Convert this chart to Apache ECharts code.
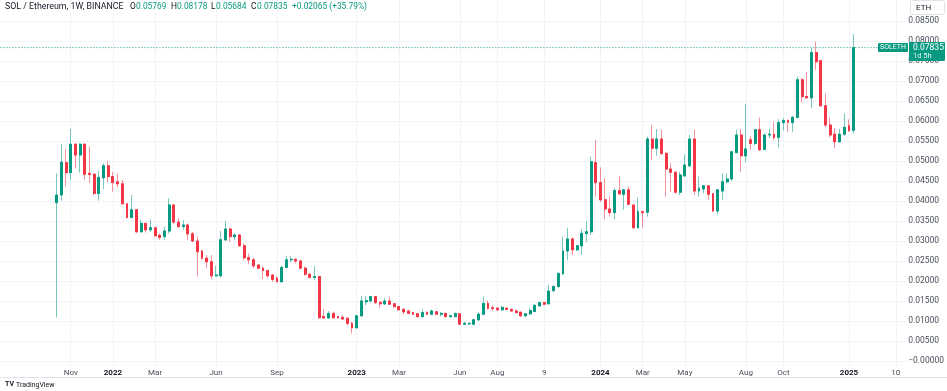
<!DOCTYPE html>
<html><head><meta charset="utf-8">
<script src="https://cdn.jsdelivr.net/npm/echarts@6/dist/echarts.min.js"></script>
<style>html,body{margin:0;padding:0;background:#fff}#c{width:947px;height:391px}</style>
</head><body><div id="c"></div>
<script>
// ---- data (weekly SOL/ETH candles) ----
const firstWeek = '2021-10-11';
const weeksBefore = 12;   // empty weeks shown before the first candle
const weeksAfter = 11;    // empty weeks shown after the last candle
const opens = [
0.0396,0.0415,0.0496,0.0471,0.0542,0.0515,0.0542,0.0469,0.0467,0.0419,0.0458,0.0488,0.0461,0.0448,0.0443,0.0393,0.0359,0.0378,0.0323,0.0344,
0.0328,0.0333,0.0314,0.0311,0.0325,0.0390,0.0347,0.0336,0.0340,0.0318,0.0300,0.0275,0.0257,0.0248,0.0213,0.0213,0.0303,0.0330,0.0311,0.0315,
0.0288,0.0258,0.0253,0.0240,0.0232,0.0226,0.0215,0.0207,0.0198,0.0234,0.0253,0.0254,0.0250,0.0232,0.0217,0.0209,0.0211,0.0111,0.0108,0.0119,
0.0111,0.0109,0.0107,0.0094,0.0083,0.0113,0.0148,0.0150,0.0161,0.0147,0.0143,0.0150,0.0143,0.0136,0.0129,0.0125,0.0121,0.0118,0.0111,0.0122,
0.0117,0.0123,0.0117,0.0119,0.0111,0.0111,0.0118,0.0092,0.0093,0.0092,0.0103,0.0117,0.0144,0.0133,0.0132,0.0128,0.0132,0.0129,0.0125,0.0122,
0.0113,0.0118,0.0124,0.0138,0.0146,0.0143,0.0176,0.0186,0.0218,0.0275,0.0305,0.0278,0.0288,0.0319,0.0323,0.0496,0.0446,0.0403,0.0380,0.0371,
0.0426,0.0417,0.0428,0.0390,0.0333,0.0373,0.0372,0.0555,0.0532,0.0555,0.0519,0.0480,0.0472,0.0422,0.0463,0.0488,0.0555,0.0425,0.0430,0.0438,
0.0418,0.0375,0.0425,0.0448,0.0455,0.0521,0.0565,0.0513,0.0553,0.0544,0.0578,0.0529,0.0565,0.0567,0.0559,0.0596,0.0601,0.0596,0.0609,0.0703,
0.0661,0.0658,0.0771,0.0751,0.0638,0.0590,0.0567,0.0548,0.0567,0.0588,0.05769];
const closes = [
0.0415,0.0497,0.0471,0.0542,0.0515,0.0542,0.0467,0.0466,0.0419,0.0459,0.0488,0.0461,0.0446,0.0443,0.0393,0.0359,0.0378,0.0323,0.0344,0.0328,
0.0333,0.0313,0.0309,0.0325,0.0390,0.0347,0.0336,0.0340,0.0318,0.0300,0.0273,0.0257,0.0248,0.0213,0.0215,0.0303,0.0330,0.0311,0.0315,0.0288,
0.0258,0.0253,0.0238,0.0232,0.0226,0.0213,0.0204,0.0198,0.0234,0.0253,0.0254,0.0250,0.0232,0.0217,0.0209,0.0211,0.0108,0.0108,0.0119,0.0108,
0.0108,0.0105,0.0094,0.0083,0.0113,0.0150,0.0151,0.0161,0.0146,0.0143,0.0150,0.0142,0.0136,0.0128,0.0123,0.0119,0.0117,0.0111,0.0121,0.0117,
0.0125,0.0117,0.0119,0.0111,0.0113,0.0119,0.0092,0.0094,0.0094,0.0103,0.0117,0.0144,0.0132,0.0131,0.0128,0.0134,0.0129,0.0125,0.0121,0.0113,
0.0118,0.0126,0.0139,0.0146,0.0142,0.0175,0.0186,0.0219,0.0275,0.0305,0.0278,0.0288,0.0319,0.0323,0.0498,0.0446,0.0403,0.0380,0.0371,0.0426,
0.0418,0.0428,0.0392,0.0333,0.0373,0.0371,0.0555,0.0532,0.0555,0.0519,0.0480,0.0472,0.0422,0.0465,0.0490,0.0555,0.0425,0.0432,0.0438,0.0417,
0.0375,0.0428,0.0448,0.0455,0.0523,0.0565,0.0513,0.0530,0.0544,0.0578,0.0528,0.0565,0.0567,0.0559,0.0596,0.0601,0.0597,0.0609,0.0703,0.0661,
0.0658,0.0771,0.0748,0.0638,0.0590,0.0565,0.0548,0.0567,0.0584,0.0576,0.07835];
const lows = [
0.0109,0.0401,0.0436,0.0453,0.0482,0.0471,0.0453,0.0446,0.0415,0.0401,0.0430,0.0448,0.0423,0.0434,0.0393,0.0357,0.0357,0.0321,0.0322,0.0321,
0.0323,0.0311,0.0303,0.0303,0.0319,0.0344,0.0333,0.0328,0.0303,0.0297,0.0211,0.0253,0.0232,0.0205,0.0212,0.0211,0.0300,0.0298,0.0303,0.0286,
0.0253,0.0242,0.0233,0.0230,0.0205,0.0208,0.0198,0.0197,0.0197,0.0232,0.0247,0.0244,0.0230,0.0213,0.0207,0.0203,0.0108,0.0105,0.0105,0.0107,
0.0107,0.0103,0.0090,0.0069,0.0082,0.0111,0.0140,0.0148,0.0142,0.0133,0.0140,0.0140,0.0132,0.0126,0.0117,0.0118,0.0115,0.0109,0.0109,0.0115,
0.0115,0.0116,0.0112,0.0109,0.0108,0.0109,0.0090,0.0090,0.0090,0.0089,0.0101,0.0115,0.0129,0.0126,0.0125,0.0126,0.0127,0.0123,0.0119,0.0111,
0.0111,0.0115,0.0122,0.0136,0.0140,0.0142,0.0173,0.0184,0.0215,0.0253,0.0265,0.0275,0.0265,0.0298,0.0315,0.0411,0.0398,0.0354,0.0361,0.0354,
0.0415,0.0378,0.0390,0.0332,0.0332,0.0333,0.0361,0.0503,0.0513,0.0515,0.0411,0.0423,0.0419,0.0415,0.0460,0.0486,0.0415,0.0411,0.0419,0.0403,
0.0372,0.0367,0.0403,0.0444,0.0451,0.0519,0.0473,0.0497,0.0528,0.0540,0.0526,0.0528,0.0557,0.0553,0.0534,0.0576,0.0573,0.0573,0.0607,0.0646,
0.0657,0.0632,0.0728,0.0636,0.0584,0.0559,0.0532,0.0546,0.0563,0.0573,0.05684];
const highs = [
0.0469,0.0542,0.0530,0.0580,0.0544,0.0544,0.0544,0.0536,0.0469,0.0475,0.0494,0.0500,0.0473,0.0469,0.0453,0.0395,0.0415,0.0379,0.0353,0.0346,
0.0354,0.0334,0.0319,0.0336,0.0407,0.0392,0.0357,0.0352,0.0344,0.0323,0.0311,0.0278,0.0265,0.0265,0.0238,0.0325,0.0350,0.0333,0.0319,0.0317,
0.0294,0.0269,0.0258,0.0242,0.0236,0.0228,0.0217,0.0211,0.0238,0.0263,0.0263,0.0257,0.0253,0.0236,0.0219,0.0238,0.0213,0.0130,0.0125,0.0123,
0.0113,0.0115,0.0108,0.0098,0.0115,0.0163,0.0163,0.0163,0.0163,0.0148,0.0157,0.0161,0.0144,0.0138,0.0132,0.0128,0.0122,0.0119,0.0129,0.0123,
0.0129,0.0125,0.0122,0.0121,0.0115,0.0121,0.0119,0.0098,0.0096,0.0104,0.0122,0.0161,0.0151,0.0140,0.0136,0.0138,0.0134,0.0131,0.0129,0.0123,
0.0120,0.0132,0.0143,0.0148,0.0148,0.0189,0.0190,0.0221,0.0311,0.0333,0.0309,0.0290,0.0329,0.0350,0.0511,0.0553,0.0484,0.0457,0.0411,0.0432,
0.0461,0.0430,0.0436,0.0392,0.0408,0.0375,0.0561,0.0590,0.0580,0.0578,0.0522,0.0494,0.0473,0.0473,0.0517,0.0565,0.0578,0.0461,0.0440,0.0440,
0.0419,0.0430,0.0469,0.0469,0.0525,0.0578,0.0580,0.0643,0.0563,0.0579,0.0609,0.0569,0.0580,0.0598,0.0604,0.0607,0.0604,0.0613,0.0711,0.0707,
0.0723,0.0782,0.0798,0.0753,0.0669,0.0609,0.0582,0.0580,0.0619,0.0604,0.08178];
const xTickLabels = [
['2021-11-01','Nov'],['2022-01-03','2022'],['2022-03-07','Mar'],['2022-06-06','Jun'],['2022-09-05','Sep'],
['2023-01-02','2023'],['2023-03-06','Mar'],['2023-06-05','Jun'],['2023-07-31','Aug'],['2023-10-09','9'],
['2024-01-01','2024'],['2024-03-04','Mar'],['2024-05-06','May'],['2024-08-05','Aug'],['2024-09-30','Oct'],
['2025-01-06','2025'],['2025-03-17','10']];
const yTickValues = [0,0.005,0.01,0.015,0.02,0.025,0.03,0.035,0.04,0.045,0.05,0.055,0.06,0.065,0.07,0.075,0.08,0.085];
const yTickLabels = ['\u22120.00000','0.00500','0.01000','0.01500','0.02000','0.02500','0.03000','0.03500','0.04000',
'0.04500','0.05000','0.05500','0.06000','0.06500','0.07000','0.07500','0.08000','0.08500'];
const lastPrice = 0.07835;
const headerParts = [
  {text: 'SOL / Ethereum, 1W, BINANCE', x: 5, kind: 'sym'},
  {text: 'O', x: 130, kind: 'lab'}, {text: '0.05769', x: 136, kind: 'val'},
  {text: 'H', x: 171, kind: 'lab'}, {text: '0.08178', x: 177, kind: 'val'},
  {text: 'L', x: 211, kind: 'lab'}, {text: '0.05684', x: 216, kind: 'val'},
  {text: 'C', x: 251, kind: 'lab'}, {text: '0.07835', x: 257, kind: 'val'},
  {text: '+0.02065 (+35.79%)', x: 292, kind: 'val'}];

// ---- build categories (weekly) ----
const DAY = 86400000;
const start = Date.parse(firstWeek + 'T00:00:00Z') - weeksBefore * 7 * DAY;
const total = weeksBefore + opens.length + weeksAfter;
const categories = [];
for (let k = 0; k < total; k++) categories.push(new Date(start + k * 7 * DAY).toISOString().slice(0, 10));
const labelMap = {};
xTickLabels.forEach(([d, t]) => { labelMap[d] = t; });
const yLabelMap = {};
yTickValues.forEach((v, i) => { yLabelMap[v.toFixed(5)] = yTickLabels[i]; });

const wickData = [], bodyData = [], lastLine = [];
for (let k = 0; k < total; k++) {
  lastLine.push(lastPrice);
  const i = k - weeksBefore;
  if (i < 0 || i >= opens.length) { wickData.push(['-','-','-','-']); bodyData.push(['-','-','-','-']); continue; }
  const o = opens[i], c = closes[i];
  wickData.push([o, c, lows[i], highs[i]]);
  bodyData.push([o, c, Math.min(o, c), Math.max(o, c)]);
}

const UP = '#089981', DOWN = '#f23645';
const chart = echarts.init(document.getElementById('c'), null, {renderer: 'canvas'});
const isYear = t => /^\d{4}$/.test(t);
const headerGraphics = headerParts.map(p => ({
  type: 'text', left: p.x, top: 2.5, z: 100,
  style: {text: p.text, fontSize: p.kind === 'sym' ? 8.8 : 8.4, fill: p.kind === 'val' ? UP : '#131722', fontFamily: 'Roboto'}
}));
chart.setOption({
  animation: false,
  backgroundColor: '#ffffff',
  textStyle: {fontFamily: 'Roboto, "Noto Sans", sans-serif'},
  grid: {left: 0.42, right: 36.6, top: 0, bottom: 25, containLabel: false},
  xAxis: {
    type: 'category', data: categories, boundaryGap: false,
    axisLine: {show: false}, axisTick: {show: false},
    axisLabel: {
      interval: (idx, val) => labelMap[val] !== undefined,
      formatter: val => { const t = labelMap[val] || ''; return isYear(t) ? '{y|' + t + '}' : '{m|' + t + '}'; },
      margin: 3,
      rich: {y: {fontSize: 8, fontWeight: 'bold', color: '#131722', fontFamily: 'Roboto'}, m: {fontSize: 8, color: '#4a4f5b', fontFamily: 'Roboto'}}
    },
    splitLine: {show: true, interval: (idx, val) => labelMap[val] !== undefined, lineStyle: {color: '#f0f3fa', width: 1}}
  },
  yAxis: {
    type: 'value', position: 'right', min: -0.00125, max: 0.09025, scale: true,
    axisLine: {show: false},
    axisTick: {show: false, customValues: yTickValues},
    axisLabel: {customValues: yTickValues, align: 'left', margin: 3, fontSize: 8.5, color: '#4a4f5b', fontFamily: 'Roboto',
      formatter: v => yLabelMap[Number(v).toFixed(5)] || ''},
    splitLine: {show: true, lineStyle: {color: '#f0f3fa', width: 1}}
  },
  series: [
    {
      name: 'last', type: 'line', data: lastLine, showSymbol: false, symbol: 'none', silent: true, z: 1,
      lineStyle: {type: [1, 2], color: UP, width: 1}
    },
    {
      name: 'wick', type: 'candlestick', data: wickData, barWidth: 2.4, silent: true, z: 2,
      itemStyle: {color: 'rgba(8,153,129,0.55)', color0: 'rgba(242,54,69,0.55)', borderColor: 'rgba(8,153,129,0.55)', borderColor0: 'rgba(242,54,69,0.55)', borderColorDoji: 'rgba(8,153,129,0.55)', borderWidth: 1}
    },
    {
      name: 'SOLETH', type: 'candlestick', data: bodyData, barWidth: 2.4, silent: true, z: 3,
      itemStyle: {color: UP, color0: DOWN, borderColor: UP, borderColor0: DOWN, borderWidth: 1}
    }
  ],
  graphic: headerGraphics.concat([
    {type: 'rect', z: 100, shape: {x: 910.5, y: 0.5, width: 34, height: 14, r: 2}, style: {fill: '#fff', stroke: '#e0e3eb', lineWidth: 1}},
    {type: 'text', z: 101, left: 916, top: 3.5, style: {text: 'ETH', fontSize: 8, fill: '#131722', fontFamily: 'Roboto'}},
    {type: 'rect', z: 100, shape: {x: 878, y: 43, width: 30, height: 9, r: 1}, style: {fill: UP}},
    {type: 'text', z: 101, left: 880, top: 44, style: {text: 'SOLETH', fontSize: 7, fill: '#fff', fontFamily: 'Roboto'}},
    {type: 'rect', z: 100, shape: {x: 909, y: 42, width: 36, height: 19, r: 1}, style: {fill: UP}},
    {type: 'text', z: 101, left: 913, top: 43, style: {text: '0.07835', fontSize: 8.5, fill: '#fff', fontFamily: 'Roboto'}},
    {type: 'text', z: 101, left: 913, top: 52, style: {text: '1d 5h', fontSize: 7.5, fill: '#e8f6f3', fontFamily: 'Roboto'}},
    {type: 'line', z: 100, shape: {x1: 0, y1: 377.5, x2: 947, y2: 377.5}, style: {stroke: '#e0e3eb', lineWidth: 1}},
    {type: 'text', z: 101, left: 5, top: 381, style: {text: 'TV', fontSize: 7, fontWeight: 'bold', fill: '#131722', fontFamily: 'Roboto'}},
    {type: 'text', z: 101, left: 16, top: 381.5, style: {text: 'TradingView', fontSize: 7, fill: '#131722', fontFamily: 'Roboto'}}
  ])
});
</script></body></html>
